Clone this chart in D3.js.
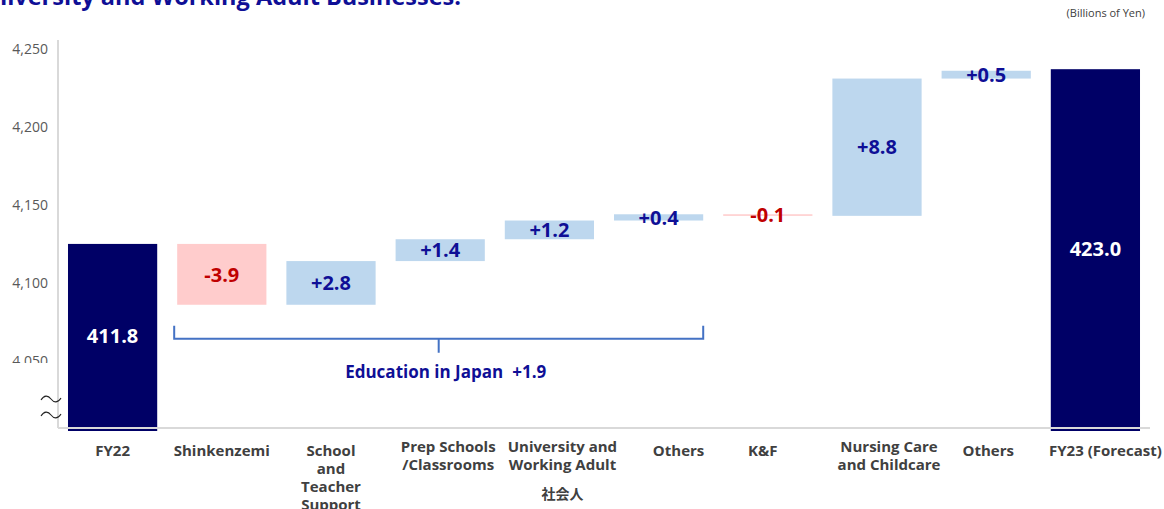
<!DOCTYPE html>
<html>
<head>
<meta charset="utf-8">
<script src="https://cdn.jsdelivr.net/npm/d3@7"></script>
<style>
  body { margin: 0; background: #fff; }
  svg { display: block; font-family: "Open Sans", "Noto Sans", sans-serif; }
</style>
</head>
<body>
<svg id="chart"></svg>
<script>
// categories, one per bar (labels broken into lines as on the slide)
const categories = ["FY22", "Shinkenzemi", "School and Teacher Support", "Prep Schools /Classrooms",
  "University and Working Adult", "Others", "K&F", "Nursing Care and Childcare", "Others", "FY23 (Forecast)"];
const labelLines = [["FY22"], ["Shinkenzemi"], ["School", "and", "Teacher", "Support"], ["Prep Schools", "/Classrooms"],
  ["University and", "Working Adult"], ["Others"], ["K&F"], ["Nursing Care", "and Childcare"], ["Others"], ["FY23 (Forecast)"]];
const jpLabels = ["", "", "", "", "社会人", "", "", "", "", ""];

// billions of yen
const startTotal = 411.8;
const deltas = [-3.9, 2.8, 1.4, 1.2, 0.4, -0.1, 8.8, 0.5];
const endTotal = 423.0;

// axis ticks (hundred millions of yen)
const yTicks = [4050, 4100, 4150, 4200, 4250];
const axisBase = 4000;

// bracket group
const groupName = "Education in Japan";
const groupMembers = [1, 2, 3, 4, 5];

const width = 1164, height = 509;
const navy = "#000066", upColor = "#bdd7ee", downColor = "#ffcccc";
const blueText = "#0f0f96", redText = "#c00000", gray = "#404040";
// small horizontal nudges of the category labels, as on the slide
const labelNudge = [0, 0, 0, 8, 13, 20, -5, 12, 2, 10];

const svg = d3.select("#chart").attr("width", width).attr("height", height);

// build waterfall rows
let rows = [];
let run = startTotal;
rows.push({ i: 0, type: "total", v0: axisBase, v1: startTotal * 10, val: startTotal });
deltas.forEach((d, k) => {
  const a = run * 10, b = (run + d) * 10;
  rows.push({ i: k + 1, type: d >= 0 ? "up" : "down", v0: Math.min(a, b), v1: Math.max(a, b), val: d });
  run += d;
});
rows.push({ i: rows.length, type: "total", v0: axisBase, v1: endTotal * 10, val: endTotal });

const x = d3.scaleBand()
  .domain(d3.range(categories.length))
  .range([58, 1150])
  .paddingInner(0.183)
  .paddingOuter(0.0915);

const y = d3.scaleLinear()
  .domain([axisBase, 4250])
  .range([428, 38]);

// title (cut at top of the slide)
svg.append("text")
  .attr("x", 461).attr("y", 5)
  .attr("text-anchor", "end")
  .attr("font-size", 23.5).attr("font-weight", 700)
  .attr("fill", blueText)
  .text("University and Working Adult Businesses.");

svg.append("text")
  .attr("x", 1145).attr("y", 17)
  .attr("text-anchor", "end")
  .attr("font-size", 11).attr("fill", gray)
  .text("(Billions of Yen)");

// bars
svg.selectAll(".bar")
  .data(rows)
  .enter()
  .append("rect")
    .attr("class", "bar")
    .attr("x", d => x(d.i))
    .attr("width", x.bandwidth())
    .attr("y", d => y(d.v1))
    .attr("height", d => (d.type === "total" ? y(d.v0) + 3 : y(d.v0)) - y(d.v1))
    .attr("fill", d => d.type === "total" ? navy : d.type === "up" ? upColor : downColor);

// y axis
const yAxis = svg.append("g")
  .attr("transform", `translate(${x.range()[0]}, 0)`)
  .call(d3.axisLeft(y).tickValues(yTicks).tickFormat(d3.format(",")).tickSize(0).tickPadding(10));
yAxis.select(".domain").remove();
yAxis.selectAll("text")
  .attr("y", 11)
  .attr("font-size", 14)
  .attr("font-family", "'Open Sans', sans-serif")
  .attr("fill", "#595959");

// the lowest tick label is half hidden on the slide
svg.append("rect")
  .attr("x", 0).attr("width", x.range()[0] - 2)
  .attr("y", y(yTicks[0]) + 13).attr("height", 26)
  .attr("fill", "#fff");

svg.append("line")
  .attr("x1", x.range()[0]).attr("x2", x.range()[0])
  .attr("y1", y(4250) + 2).attr("y2", y(axisBase))
  .attr("stroke", "#d9d9d9").attr("stroke-width", 2);

svg.append("line")
  .attr("x1", x.range()[0]).attr("x2", x.range()[1])
  .attr("y1", y(axisBase)).attr("y2", y(axisBase))
  .attr("stroke", "#d9d9d9").attr("stroke-width", 2);

// axis break marks
[-29, -13].forEach(off => {
  const cx = x.range()[0] - 7, cy = y(axisBase) + off;
  svg.append("path")
    .attr("d", `M${cx - 10},${cy + 1} C${cx - 7},${cy - 4} ${cx - 3},${cy - 4} ${cx},${cy} S${cx + 7},${cy + 4} ${cx + 10},${cy - 1}`)
    .attr("fill", "none").attr("stroke", "#222").attr("stroke-width", 1.1);
});

// value labels
const fmtDelta = d => (d >= 0 ? "+" : "-") + Math.abs(d).toFixed(1);
svg.selectAll(".val")
  .data(rows)
  .enter()
  .append("text")
    .attr("class", "val")
    .attr("x", d => x(d.i) + x.bandwidth() / 2)
    .attr("y", d => (y(d.v0) + y(d.v1)) / 2)
    .attr("dy", "0.36em")
    .attr("text-anchor", "middle")
    .attr("font-size", 20).attr("font-weight", 700)
    .attr("fill", d => d.type === "total" ? "#fff" : d.type === "up" ? blueText : redText)
    .text(d => d.type === "total" ? d.val.toFixed(1) : fmtDelta(d.val));

// category labels
const cat = svg.selectAll(".cat")
  .data(labelLines)
  .enter()
  .append("text")
    .attr("class", "cat")
    .attr("text-anchor", "middle")
    .attr("font-size", 15).attr("font-weight", 700)
    .attr("fill", gray);
cat.each(function(lines, i) {
  const t = d3.select(this);
  const top = lines.length === 2 ? 452 : 456;
  const cx = x(i) + x.bandwidth() / 2 + labelNudge[i];
  lines.forEach((ln, j) => {
    t.append("tspan")
      .attr("x", cx)
      .attr("y", top + j * 18)
      .text(ln);
  });
  if (jpLabels[i]) {
    svg.append("text")
      .attr("x", cx)
      .attr("y", top + lines.length * 18 + 11)
      .attr("text-anchor", "middle")
      .attr("font-family", "'Noto Sans CJK JP', sans-serif")
      .attr("font-size", 14).attr("font-weight", 700)
      .attr("fill", gray)
      .text(jpLabels[i]);
  }
});

// bracket for the Education in Japan group
const gx0 = x(groupMembers[0]) - 3;
const gx1 = x(groupMembers[groupMembers.length - 1]) + x.bandwidth();
const gLow = y(d3.min(rows.filter(r => groupMembers.includes(r.i)), r => r.v0));
const gMid = (gx0 + gx1) / 2;
svg.append("path")
  .attr("d", `M${gx0},${gLow + 21} V${gLow + 34} H${gx1} V${gLow + 21} M${gMid},${gLow + 34} V${gLow + 48}`)
  .attr("fill", "none").attr("stroke", "#4472c4").attr("stroke-width", 2);

const groupSum = d3.sum(groupMembers, i => deltas[i - 1]);
const gt = svg.append("text")
  .attr("x", gMid + 7).attr("y", gLow + 73)
  .attr("text-anchor", "middle")
  .attr("font-size", 17).attr("font-weight", 700)
  .attr("fill", blueText);
gt.append("tspan").text(groupName);
gt.append("tspan").attr("dx", 9).text(fmtDelta(groupSum));
</script>
</body>
</html>
